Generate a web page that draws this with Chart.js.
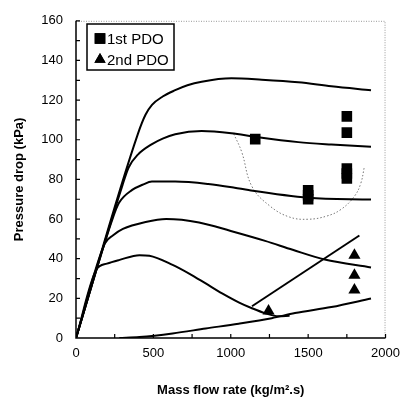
<!DOCTYPE html>
<html>
<head>
<meta charset="utf-8">
<script src="https://cdn.jsdelivr.net/npm/chart.js@4.4.1/dist/chart.umd.min.js"></script>
<style>
  html, body { margin: 0; padding: 0; background: #fff; }
  #wrap { width: 408px; height: 400px; }
</style>
</head>
<body>
<div id="wrap"><canvas id="chart"></canvas></div>
<script>
// axis
const xTicks = [0, 500, 1000, 1500, 2000];
const yTicks = [0, 20, 40, 60, 80, 100, 120, 140, 160];

// model curves, [mass flow, pressure drop]
const curve1 = [[0,0],[400,103],[449,112.6],[491,117.6],[560,121.8],[641,125],[720,127.5],[812,129.3],[1004,131],[1200,130.3],[1436,129],[1650,127],[1906,125]];
const curve2 = [[0,0],[300,77],[340,86],[400,92.5],[491,97.8],[560,100.6],[641,102.8],[812,104.4],[1004,103.3],[1158,101.5],[1436,98.8],[1650,97.6],[1906,96.5]];
const curve3 = [[0,0],[240,61],[278,68.2],[363,74.7],[430,77.3],[491,78.9],[641,78.9],[854,77.7],[1025,75.8],[1115,74.6],[1500,70.8],[1906,69.8]];
const curve4 = [[0,0],[186,47.6],[240,51.8],[303,55],[450,58.5],[583,60],[795,58.3],[1000,54],[1222,49],[1400,44.5],[1607,39.6],[1906,35.6]];
const curve5 = [[0,0],[132,34.5],[200,37.5],[282,39.4],[410,41.8],[474,41.5],[624,36.9],[731,32.5],[838,27.5],[944,22.5],[1051,18],[1137,15],[1222,12.5],[1308,11],[1380,11.2]];
const curve6 = [[280,0],[410,0.5],[624,2.3],[838,4.8],[1051,7.2],[1265,10],[1415,12.6],[1650,15.6],[1906,19.9]];
const line7 = [[1137,16],[1831,51.7]];
const regionArc = [[1019,103],[1070,94],[1137,76.4],[1254,66.5],[1380,61],[1500,59.9],[1620,61.5],[1713,64.9],[1799,71.5],[1840,78],[1863,86.3]];

// measured points
const pdo1 = [[1158,100.3],[1500,74.5],[1500,72],[1500,70],[1750,111.8],[1750,103.6],[1750,85.5],[1750,83],[1750,80.5]];
const pdo2 = [[1244,13.6],[1799,41.8],[1799,31.6],[1799,24.2]];

const FONT = "'Liberation Sans', Arial, sans-serif";
const pts = arr => arr.map(p => ({ x: p[0], y: p[1] }));

function curveSet(arr) {
  return {
    data: pts(arr), showLine: true, borderColor: '#000', borderWidth: 2,
    pointRadius: 0, cubicInterpolationMode: 'monotone', fill: false
  };
}

// frame + inward ticks
const framePlugin = {
  id: 'frame',
  afterDatasetsDraw(chart) {
    const { ctx, chartArea: a, scales } = chart;
    ctx.save();
    ctx.strokeStyle = '#999';
    ctx.lineWidth = 1;
    ctx.setLineDash([1, 1.5]);
    ctx.beginPath();
    ctx.moveTo(a.left, a.top + 0.5);
    ctx.lineTo(a.right - 0.5, a.top + 0.5);
    ctx.lineTo(a.right - 0.5, a.bottom);
    ctx.stroke();
    ctx.setLineDash([]);
    ctx.strokeStyle = '#000';
    ctx.lineWidth = 1.5;
    ctx.beginPath();
    ctx.moveTo(a.left, a.top);
    ctx.lineTo(a.left, a.bottom);
    ctx.lineTo(a.right, a.bottom);
    ctx.stroke();
    ctx.lineWidth = 1.2;
    ctx.beginPath();
    for (let v = 10; v <= 160; v += 10) {
      const y = scales.y.getPixelForValue(v);
      ctx.moveTo(a.left, y);
      ctx.lineTo(a.left + 4, y);
    }
    for (let v = 250; v <= 2000; v += 250) {
      const x = scales.x.getPixelForValue(v);
      ctx.moveTo(x, a.bottom);
      ctx.lineTo(x, a.bottom - 4);
    }
    ctx.stroke();
    ctx.restore();
  }
};

// boxed legend inside the plot
const legendPlugin = {
  id: 'boxLegend',
  afterDraw(chart) {
    const { ctx } = chart;
    const items = chart.data.datasets.filter(d => d.label);
    ctx.save();
    ctx.strokeStyle = '#000';
    ctx.lineWidth = 1.5;
    ctx.strokeRect(87, 24, 87, 46);
    ctx.font = '15px ' + FONT;
    ctx.textBaseline = 'middle';
    items.forEach((d, i) => {
      const y = 38.5 + i * 21;
      ctx.fillStyle = '#000';
      Chart.helpers.drawPoint(ctx, { pointStyle: d.pointStyle, radius: i === 0 ? 7.5 : 6.5, rotation: 0, borderWidth: 0 }, 100, y);
      ctx.fill();
      ctx.fillText(d.label, 107, y + 1);
    });
    ctx.restore();
  }
};

new Chart(document.getElementById('chart'), {
  type: 'scatter',
  data: {
    datasets: [
      curveSet(curve1), curveSet(curve2), curveSet(curve3),
      curveSet(curve4), curveSet(curve5), curveSet(curve6),
      { data: pts(line7), showLine: true, borderColor: '#000', borderWidth: 2, pointRadius: 0 },
      { data: pts(regionArc), showLine: true, borderColor: '#777', borderWidth: 1, borderDash: [1.5, 2],
        pointRadius: 0, tension: 0.4 },
      { label: '1st PDO', data: pts(pdo1), pointStyle: 'rect', pointRadius: 7.5,
        backgroundColor: '#000', borderColor: '#000', borderWidth: 0 },
      { label: '2nd PDO', data: pts(pdo2), pointStyle: 'triangle', pointRadius: 7,
        backgroundColor: '#000', borderColor: '#000', borderWidth: 0 }
    ]
  },
  options: {
    responsive: true,
    maintainAspectRatio: false,
    animation: false,
    layout: { padding: { top: 14, right: 20, left: 0, bottom: 0 } },
    plugins: { legend: { display: false }, tooltip: { enabled: false } },
    scales: {
      x: {
        type: 'linear', min: 0, max: 2000,
        afterFit: s => { s.height = 62; },
        afterBuildTicks: s => { s.ticks = xTicks.map(v => ({ value: v })); },
        grid: { display: false, drawTicks: false },
        border: { display: false },
        ticks: { color: '#000', padding: 8, font: { family: FONT, size: 13 }, maxRotation: 0,
          callback: v => String(v) },
        title: { display: true, text: 'Mass flow rate (kg/m².s)', color: '#000',
          font: { family: FONT, size: 13, weight: 'bold' }, padding: { top: 10, bottom: 2 } }
      },
      y: {
        type: 'linear', min: 0, max: 160,
        afterFit: s => { s.width = 76; },
        afterBuildTicks: s => { s.ticks = yTicks.map(v => ({ value: v })); },
        grid: { display: false, drawTicks: false },
        border: { display: false },
        ticks: { color: '#000', padding: 13, font: { family: FONT, size: 13 }, callback: v => String(v) },
        title: { display: true, text: 'Pressure drop (kPa)', color: '#000',
          font: { family: FONT, size: 13, weight: 'bold' }, padding: { top: 12, bottom: 4 } }
      }
    }
  },
  plugins: [framePlugin, legendPlugin]
});
</script>
</body>
</html>
